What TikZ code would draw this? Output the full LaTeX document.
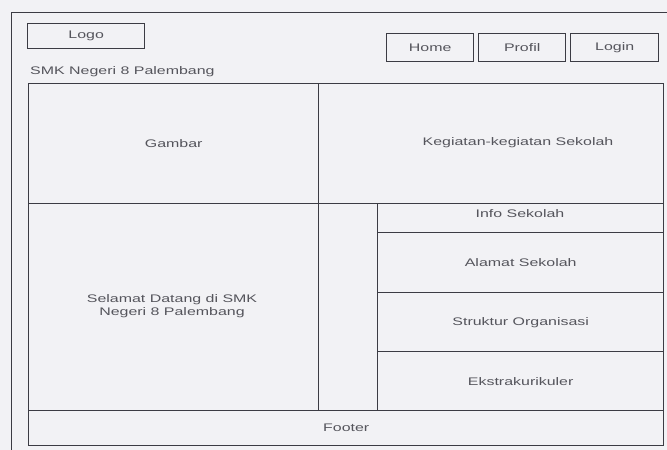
\documentclass[tikz,border=0pt]{standalone}
\usepackage{fontspec}
\newfontfamily\widesans[FakeStretch=1.45]{Liberation Sans}
\definecolor{paper}{HTML}{F2F2F5}
\definecolor{ink}{HTML}{3C3C44}
\definecolor{txt}{HTML}{55555C}
\tikzset{
  cell/.style={draw=ink, line width=1.4pt, rectangle, inner sep=0pt, anchor=north west},
  lbl/.style={inner sep=0pt, font=\widesans\fontsize{11}{13.5}\selectfont, text=txt, align=center},
}
\newcommand{\cellbox}[5]{% name, x1, y1, x2, y2
  \node[cell, minimum width={(#4-#2)*1pt}, minimum height={(#5-#3)*1pt}] (#1) at (#2,#3) {};
}
\begin{document}
\begin{tikzpicture}[x=1pt,y=-1pt]
\useasboundingbox[fill=paper] (0,0) rectangle (667,450);
% outer frame (extends beyond the page)
\node[cell, line width=1.1pt, minimum width=680pt, minimum height=470pt] (frame) at (11,12) {};
% header
\cellbox{logo}{27}{23}{144}{48}
\node[lbl] (logot) at (logo.center) {Logo};
\cellbox{home}{386}{33}{473}{61}
\node[lbl] (homet) at (home.center) {Home};
\cellbox{profil}{478}{33}{565}{61}
\node[lbl] (profilt) at (profil.center) {Profil};
\cellbox{login}{570}{33}{658}{61}
\node[lbl] (logint) at (login.center) {Login};
\node[lbl, anchor=west] (school) at (30,72) {SMK Negeri 8 Palembang};
% main grid
\cellbox{gambar}{28}{83}{318}{203}
\node[lbl] (gambart) at (gambar.center) {Gambar};
\cellbox{kegiatan}{318}{83}{663}{203}
\node[lbl] (kegiatant) at (518,143) {Kegiatan-kegiatan Sekolah};
\cellbox{selamat}{28}{203}{318}{410}
\node[lbl] (selamatt) at (172,306) {Selamat Datang di SMK\\Negeri 8 Palembang};
\cellbox{gap}{318}{203}{377}{410}
\cellbox{info}{377}{203}{663}{232}
\node[lbl] (infot) at (520,214) {Info Sekolah};
\cellbox{alamat}{377}{232}{663}{292}
\node[lbl] (alamatt) at (alamat.center) {Alamat Sekolah};
\cellbox{struktur}{377}{292}{663}{351}
\node[lbl] (strukturt) at (struktur.center) {Struktur Organisasi};
\cellbox{ekstra}{377}{351}{663}{410}
\node[lbl] (ekstrat) at (ekstra.center) {Ekstrakurikuler};
\cellbox{footer}{28}{410}{663}{445}
\node[lbl] (footert) at (footer.center) {Footer};
\end{tikzpicture}
\end{document}
